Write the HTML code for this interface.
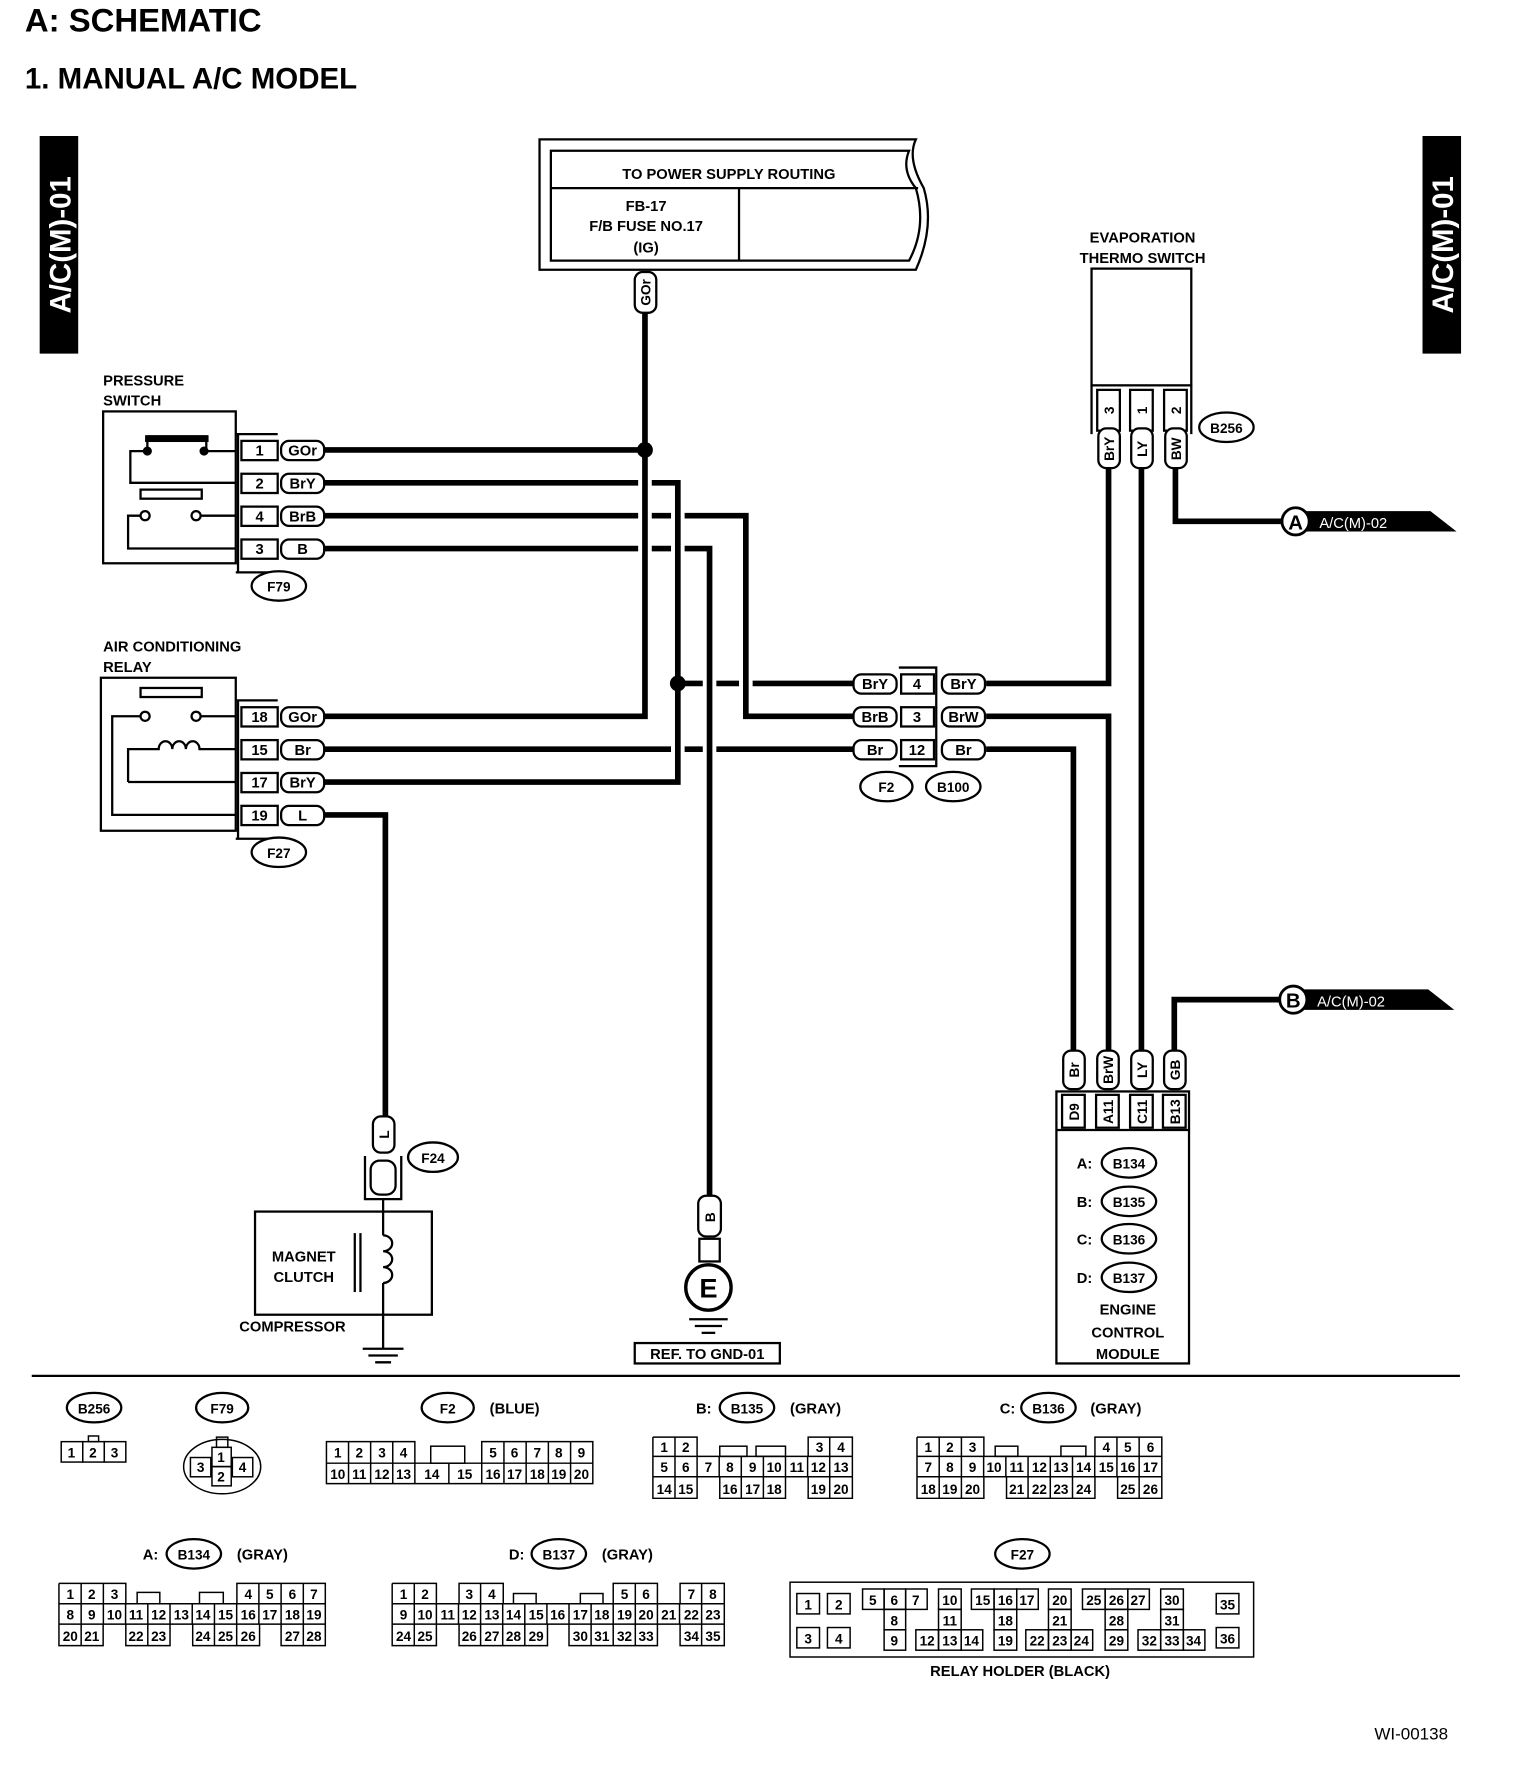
<!DOCTYPE html>
<html><head><meta charset="utf-8"><style>
html,body{margin:0;padding:0;background:#fff}
svg{display:block}
text{font-family:"Liberation Sans",Arial,sans-serif;font-weight:bold;fill:#000}
</style></head><body>
<svg width="1520" height="1776" viewBox="0 0 1341 1567" preserveAspectRatio="none" xmlns="http://www.w3.org/2000/svg">
<rect width="1341" height="1567" fill="#fff"/>
<text x="22" y="28" font-size="29">A:  SCHEMATIC</text>
<text x="22" y="78" font-size="26">1.  MANUAL A/C MODEL</text>

<rect x="35" y="120" width="34" height="192" fill="#000"/>
<text transform="translate(62,216) rotate(-90)" font-size="26" text-anchor="middle" style="fill:#fff">A/C(M)-01</text>
<rect x="1255" y="120" width="34" height="192" fill="#000"/>
<text transform="translate(1282,216) rotate(-90)" font-size="26" text-anchor="middle" style="fill:#fff">A/C(M)-01</text>

<g fill="none" stroke="#000" stroke-width="2">
<path d="M476,123 H808 Q800,140 815,166 Q825,200 808,238 H476 Z"/>
<path d="M486,133 H802 Q795,150 808,166 Q818,200 802,230 H486 Z"/>
<line x1="486" y1="166" x2="810" y2="166"/>
<line x1="652" y1="166" x2="652" y2="230"/>
</g>
<text x="643" y="158" font-size="13" text-anchor="middle">TO POWER SUPPLY ROUTING</text>
<text x="570" y="186" font-size="13" text-anchor="middle">FB-17</text>
<text x="570" y="204" font-size="13" text-anchor="middle">F/B FUSE NO.17</text>
<text x="570" y="223" font-size="13" text-anchor="middle">(IG)</text>

<g stroke="#000" stroke-width="5" fill="none">
<polyline points="569,275 569,632 285,632"/>
<line x1="285" y1="397" x2="569" y2="397"/>
<polyline points="285,426 563,426"/><polyline points="575,426 598,426 598,690 285,690"/>
<polyline points="285,455 563,455"/><line x1="575" y1="455" x2="592" y2="455"/><polyline points="604,455 658,455 658,632 755,632"/>
<polyline points="285,484 563,484"/><line x1="575" y1="484" x2="592" y2="484"/><polyline points="604,484 626,484 626,1055"/>
<line x1="598" y1="603" x2="620" y2="603"/><line x1="632" y1="603" x2="652" y2="603"/><line x1="664" y1="603" x2="755" y2="603"/>
<line x1="285" y1="661" x2="592" y2="661"/><line x1="604" y1="661" x2="620" y2="661"/><line x1="632" y1="661" x2="755" y2="661"/>
<polyline points="285,719 340,719 340,985"/>
<polyline points="870,603 978,603 978,412"/>
<polyline points="870,632 978,632 978,927"/>
<polyline points="870,661 947,661 947,927"/>
<line x1="1007" y1="412" x2="1007" y2="927"/>
<polyline points="1037,412 1037,460 1131,460"/>
<polyline points="1036,927 1036,882 1129,882"/>
</g>
<circle cx="569" cy="397" r="7"/><circle cx="598" cy="603" r="7"/>

<rect x="560" y="240" width="19" height="36" rx="7" fill="#fff" stroke="#000" stroke-width="2"/>
<text transform="translate(574,258) rotate(-90)" font-size="12" text-anchor="middle">GOr</text>

<text x="91" y="340" font-size="13">PRESSURE</text>
<text x="91" y="358" font-size="13">SWITCH</text>
<g fill="none" stroke="#000" stroke-width="2">
<rect x="91" y="363" width="117" height="134"/>
<polyline points="208,383 245,383"/><polyline points="208,505 245,505"/><line x1="210" y1="383" x2="210" y2="505"/>
<rect x="213" y="389" width="32" height="17"/><rect x="213" y="418" width="32" height="17"/><rect x="213" y="447" width="32" height="17"/><rect x="213" y="476" width="32" height="17"/>
<polyline points="130,398 130,385 182,385 182,398"/>
<polyline points="130,398 115,398 115,426 208,426"/><line x1="182" y1="398" x2="208" y2="398"/>
<rect x="124" y="432" width="54" height="8"/>
<circle cx="128" cy="455" r="4"/><circle cx="173" cy="455" r="4"/>
<polyline points="124,455 113,455 113,484 208,484"/><line x1="177" y1="455" x2="208" y2="455"/>
</g>
<circle cx="130" cy="398" r="4"/><circle cx="180" cy="398" r="4"/>
<rect x="128" y="384" width="56" height="6"/>
<g font-size="13" text-anchor="middle">
<text x="229" y="402">1</text><text x="229" y="431">2</text><text x="229" y="460">4</text><text x="229" y="489">3</text>
</g>
<g fill="#fff" stroke="#000" stroke-width="2">
<rect x="248" y="389" width="38" height="17" rx="7"/><rect x="248" y="418" width="38" height="17" rx="7"/><rect x="248" y="447" width="38" height="17" rx="7"/><rect x="248" y="476" width="38" height="17" rx="7"/>
</g>
<g font-size="13" text-anchor="middle">
<text x="267" y="402">GOr</text><text x="267" y="431">BrY</text><text x="267" y="460">BrB</text><text x="267" y="489">B</text>
</g>
<ellipse cx="246" cy="517" rx="24" ry="13" fill="#fff" stroke="#000" stroke-width="2"/><text x="246" y="522" font-size="12" text-anchor="middle">F79</text>

<text x="91" y="575" font-size="13">AIR CONDITIONING</text>
<text x="91" y="593" font-size="13">RELAY</text>
<g fill="none" stroke="#000" stroke-width="2">
<rect x="89" y="598" width="119" height="135"/>
<polyline points="208,618 245,618"/><polyline points="208,740 245,740"/><line x1="210" y1="618" x2="210" y2="740"/>
<rect x="213" y="624" width="32" height="17"/><rect x="213" y="653" width="32" height="17"/><rect x="213" y="682" width="32" height="17"/><rect x="213" y="711" width="32" height="17"/>
<rect x="124" y="607" width="54" height="8"/>
<circle cx="128" cy="632" r="4"/><circle cx="173" cy="632" r="4"/>
<polyline points="124,632 99,632 99,719 208,719"/><line x1="177" y1="632" x2="208" y2="632"/>
<path d="M113,690 V661 H140 a6,7 0 0 1 12,0 a6,7 0 0 1 12,0 a6,7 0 0 1 12,0 H208"/>
<line x1="113" y1="690" x2="208" y2="690"/>
</g>
<g font-size="13" text-anchor="middle">
<text x="229" y="637">18</text><text x="229" y="666">15</text><text x="229" y="695">17</text><text x="229" y="724">19</text>
</g>
<g fill="#fff" stroke="#000" stroke-width="2">
<rect x="248" y="624" width="38" height="17" rx="7"/><rect x="248" y="653" width="38" height="17" rx="7"/><rect x="248" y="682" width="38" height="17" rx="7"/><rect x="248" y="711" width="38" height="17" rx="7"/>
</g>
<g font-size="13" text-anchor="middle">
<text x="267" y="637">GOr</text><text x="267" y="666">Br</text><text x="267" y="695">BrY</text><text x="267" y="724">L</text>
</g>
<ellipse cx="246" cy="752" rx="24" ry="13" fill="#fff" stroke="#000" stroke-width="2"/><text x="246" y="757" font-size="12" text-anchor="middle">F27</text>

<rect x="329" y="985" width="19" height="32" rx="7" fill="#fff" stroke="#000" stroke-width="2"/>
<text transform="translate(343,1001) rotate(-90)" font-size="12" text-anchor="middle">L</text>
<g fill="none" stroke="#000" stroke-width="2">
<path d="M322,1020 V1058 H354 V1020"/><rect x="327" y="1024" width="22" height="30" rx="8"/>
<rect x="225" y="1069" width="156" height="91"/>
<line x1="338" y1="1058" x2="338" y2="1090"/>
<path d="M338,1090 a8,7 0 0 1 0,14 a8,7 0 0 1 0,14 a8,7 0 0 1 0,14"/>
<line x1="338" y1="1132" x2="338" y2="1190"/>
<line x1="313" y1="1088" x2="313" y2="1140"/><line x1="318" y1="1088" x2="318" y2="1140"/>
<line x1="320" y1="1190" x2="356" y2="1190"/><line x1="325" y1="1196" x2="351" y2="1196"/><line x1="331" y1="1202" x2="345" y2="1202"/>
</g>
<ellipse cx="382" cy="1021" rx="22" ry="13" fill="#fff" stroke="#000" stroke-width="2"/><text x="382" y="1026" font-size="12" text-anchor="middle">F24</text>
<text x="268" y="1113" font-size="13" text-anchor="middle">MAGNET</text>
<text x="268" y="1131" font-size="13" text-anchor="middle">CLUTCH</text>
<text x="258" y="1175" font-size="13" text-anchor="middle">COMPRESSOR</text>

<rect x="616" y="1055" width="20" height="36" rx="7" fill="#fff" stroke="#000" stroke-width="2"/>
<text transform="translate(631,1074) rotate(-90)" font-size="12" text-anchor="middle">B</text>
<rect x="617" y="1093" width="18" height="20" fill="#fff" stroke="#000" stroke-width="2"/>
<circle cx="625" cy="1136" r="20" fill="#fff" stroke="#000" stroke-width="3"/>
<text x="625" y="1145" font-size="24" text-anchor="middle">E</text>
<g stroke="#000" stroke-width="2"><line x1="608" y1="1164" x2="642" y2="1164"/><line x1="613" y1="1170" x2="637" y2="1170"/><line x1="619" y1="1176" x2="631" y2="1176"/></g>
<rect x="560" y="1185" width="128" height="18" fill="none" stroke="#000" stroke-width="2"/>
<text x="624" y="1199" font-size="13" text-anchor="middle">REF. TO GND-01</text>

<g fill="none" stroke="#000" stroke-width="2">
<path d="M793,589 H826 V676 H793"/>
<rect x="795" y="595" width="29" height="17"/><rect x="795" y="624" width="29" height="17"/><rect x="795" y="653" width="29" height="17"/>
</g>
<g fill="#fff" stroke="#000" stroke-width="2">
<rect x="753" y="595" width="38" height="17" rx="7"/><rect x="753" y="624" width="38" height="17" rx="7"/><rect x="753" y="653" width="38" height="17" rx="7"/>
<rect x="831" y="595" width="38" height="17" rx="7"/><rect x="831" y="624" width="38" height="17" rx="7"/><rect x="831" y="653" width="38" height="17" rx="7"/>
</g>
<g font-size="13" text-anchor="middle">
<text x="772" y="608">BrY</text><text x="772" y="637">BrB</text><text x="772" y="666">Br</text>
<text x="809" y="608">4</text><text x="809" y="637">3</text><text x="809" y="666">12</text>
<text x="850" y="608">BrY</text><text x="850" y="637">BrW</text><text x="850" y="666">Br</text>
</g>
<ellipse cx="782" cy="694" rx="23" ry="13" fill="#fff" stroke="#000" stroke-width="2"/><text x="782" y="699" font-size="12" text-anchor="middle">F2</text>
<ellipse cx="841" cy="694" rx="24" ry="13" fill="#fff" stroke="#000" stroke-width="2"/><text x="841" y="699" font-size="12" text-anchor="middle">B100</text>

<text x="1008" y="214" font-size="13" text-anchor="middle">EVAPORATION</text>
<text x="1008" y="232" font-size="13" text-anchor="middle">THERMO SWITCH</text>
<g fill="none" stroke="#000" stroke-width="2">
<rect x="963" y="237" width="88" height="103"/>
<path d="M963,340 V383 M1051,340 V383"/>
<rect x="968" y="344" width="20" height="36"/><rect x="997" y="344" width="20" height="36"/><rect x="1027" y="344" width="20" height="36"/>
</g>
<g font-size="12" text-anchor="middle">
<text transform="translate(983,362) rotate(-90)">3</text><text transform="translate(1012,362) rotate(-90)">1</text><text transform="translate(1042,362) rotate(-90)">2</text>
</g>
<g fill="#fff" stroke="#000" stroke-width="2">
<rect x="969" y="378" width="19" height="35" rx="7"/><rect x="998" y="378" width="19" height="35" rx="7"/><rect x="1028" y="378" width="19" height="35" rx="7"/>
</g>
<g font-size="12" text-anchor="middle">
<text transform="translate(983,396) rotate(-90)">BrY</text><text transform="translate(1012,396) rotate(-90)">LY</text><text transform="translate(1042,396) rotate(-90)">BW</text>
</g>
<ellipse cx="1082" cy="377" rx="24" ry="13" fill="#fff" stroke="#000" stroke-width="2"/><text x="1082" y="382" font-size="12" text-anchor="middle">B256</text>

<polygon points="1150,451 1262,451 1285,469 1150,469" fill="#000"/>
<circle cx="1143" cy="460" r="12" fill="#fff" stroke="#000" stroke-width="2.5"/>
<text x="1143" y="467" font-size="18" text-anchor="middle">A</text>
<text x="1164" y="466" font-size="13" style="fill:#fff;font-weight:normal">A/C(M)-02</text>
<polygon points="1148,873 1260,873 1283,891 1148,891" fill="#000"/>
<circle cx="1141" cy="882" r="12" fill="#fff" stroke="#000" stroke-width="2.5"/>
<text x="1141" y="889" font-size="18" text-anchor="middle">B</text>
<text x="1162" y="888" font-size="13" style="fill:#fff;font-weight:normal">A/C(M)-02</text>

<g fill="#fff" stroke="#000" stroke-width="2">
<rect x="938" y="927" width="19" height="34" rx="7"/><rect x="968" y="927" width="19" height="34" rx="7"/><rect x="998" y="927" width="19" height="34" rx="7"/><rect x="1027" y="927" width="19" height="34" rx="7"/>
</g>
<g font-size="12" text-anchor="middle">
<text transform="translate(952,944) rotate(-90)">Br</text><text transform="translate(982,944) rotate(-90)">BrW</text><text transform="translate(1012,944) rotate(-90)">LY</text><text transform="translate(1041,944) rotate(-90)">GB</text>
</g>
<g fill="none" stroke="#000" stroke-width="2">
<rect x="932" y="963" width="117" height="240"/>
<line x1="932" y1="997" x2="1049" y2="997"/>
<rect x="937" y="966" width="20" height="29"/><rect x="967" y="966" width="20" height="29"/><rect x="997" y="966" width="20" height="29"/><rect x="1026" y="966" width="20" height="29"/>
</g>
<g font-size="12" text-anchor="middle">
<text transform="translate(952,981) rotate(-90)">D9</text><text transform="translate(982,981) rotate(-90)">A11</text><text transform="translate(1012,981) rotate(-90)">C11</text><text transform="translate(1041,981) rotate(-90)">B13</text>
</g>
<g font-size="13">
<text x="950" y="1031">A:</text><text x="950" y="1065">B:</text><text x="950" y="1098">C:</text><text x="950" y="1132">D:</text>
</g>
<g fill="#fff" stroke="#000" stroke-width="2">
<ellipse cx="996" cy="1026" rx="24" ry="13"/><ellipse cx="996" cy="1060" rx="24" ry="13"/><ellipse cx="996" cy="1093" rx="24" ry="13"/><ellipse cx="996" cy="1127" rx="24" ry="13"/>
</g>
<g font-size="12" text-anchor="middle">
<text x="996" y="1031">B134</text><text x="996" y="1065">B135</text><text x="996" y="1098">B136</text><text x="996" y="1132">B137</text>
<text x="995" y="1160" font-size="13">ENGINE</text><text x="995" y="1180" font-size="13">CONTROL</text><text x="995" y="1199" font-size="13">MODULE</text>
</g>

<line x1="28" y1="1214" x2="1288" y2="1214" stroke="#000" stroke-width="2"/>

<g fill="#fff" stroke="#000" stroke-width="2">
<ellipse cx="83" cy="1242" rx="24" ry="13"/><ellipse cx="196" cy="1242" rx="23" ry="13"/><ellipse cx="395" cy="1242" rx="23" ry="13"/>
<ellipse cx="659" cy="1242" rx="24" ry="13"/><ellipse cx="925" cy="1242" rx="24" ry="13"/>
<ellipse cx="171" cy="1371" rx="24" ry="13"/><ellipse cx="493" cy="1371" rx="24" ry="13"/><ellipse cx="902" cy="1371" rx="24" ry="13"/>
</g>
<g font-size="12" text-anchor="middle">
<text x="83" y="1247">B256</text><text x="196" y="1247">F79</text><text x="395" y="1247">F2</text><text x="659" y="1247">B135</text><text x="925" y="1247">B136</text>
<text x="171" y="1376">B134</text><text x="493" y="1376">B137</text><text x="902" y="1376">F27</text>
</g>
<g font-size="13">
<text x="432" y="1247">(BLUE)</text><text x="614" y="1247">B:</text><text x="697" y="1247">(GRAY)</text>
<text x="882" y="1247">C:</text><text x="962" y="1247">(GRAY)</text>
<text x="126" y="1376">A:</text><text x="209" y="1376">(GRAY)</text>
<text x="449" y="1376">D:</text><text x="531" y="1376">(GRAY)</text>
</g>

<g fill="none" stroke="#000" stroke-width="1.3">
<rect x="54" y="1272" width="19" height="18"/><rect x="73" y="1272" width="19" height="18"/><rect x="92" y="1272" width="19" height="18"/><rect x="78" y="1267" width="9" height="5"/>
<ellipse cx="196" cy="1294" rx="34" ry="24"/><rect x="191" y="1268" width="10" height="9"/>
<rect x="187" y="1277" width="17" height="17"/><rect x="187" y="1294" width="17" height="17"/><rect x="168" y="1286" width="18" height="17"/><rect x="205" y="1286" width="18" height="17"/>
<path d="M288,1272 H366 V1291 H288 Z M425,1272 H523 V1291 H425 Z M288,1291 H523 V1309 H288 Z"/>
<path d="M307.5,1272V1309 M327,1272V1309 M346.5,1272V1309 M366,1291V1309 M396,1291V1309 M425,1291V1309 M444.6,1272V1309 M464.2,1272V1309 M483.8,1272V1309 M503.4,1272V1309"/>
<rect x="380" y="1276" width="30" height="15"/>
<path d="M576,1268 H615 V1285 M713,1285 V1268 H752 V1322 H713 V1303 M693,1303 V1322 H635 V1303 M615,1303 V1322 H576 V1268 M576,1285 H752 M576,1303 H752"/>
<path d="M595.5,1268V1322 M615,1285V1303 M634.5,1285V1303 M654,1285V1322 M673.5,1285V1322 M693,1285V1303 M712.5,1285V1303 M732,1268V1322"/>
<rect x="635" y="1276" width="24" height="9"/><rect x="667" y="1276" width="26" height="9"/>
<path d="M809,1268 H868 V1285 M966,1285 V1268 H1025 V1322 H986 V1303 M966,1303 V1322 H888 V1303 M868,1303 V1322 H809 V1268 M809,1285 H1025 M809,1303 H1025"/>
<path d="M828.6,1268V1322 M848.2,1268V1322 M867.8,1285V1303 M887.4,1285V1303 M907,1285V1322 M926.6,1285V1322 M946.2,1285V1322 M965.8,1285V1303 M985.4,1268V1303 M1005,1268V1322"/>
<rect x="878" y="1276" width="20" height="9"/><rect x="936" y="1276" width="22" height="9"/>
<path d="M52,1397 H111 V1415 M209,1415 V1397 H287 V1452 H248 V1433 M229,1433 V1452 H170 V1433 M150,1433 V1452 H111 V1433 M91,1433 V1452 H52 V1397 M52,1415 H287 M52,1433 H287"/>
<path d="M71.6,1397V1452 M91.2,1397V1433 M110.8,1415V1433 M130.4,1415V1452 M150,1415V1433 M169.6,1415V1433 M189.2,1415V1452 M208.8,1415V1452 M228.4,1397V1433 M248,1397V1433 M267.6,1397V1452"/>
<rect x="121" y="1405" width="20" height="10"/><rect x="176" y="1405" width="21" height="10"/>
<path d="M346,1397 H385 V1415 M405,1415 V1397 H444 V1415 M541,1415 V1397 H580 V1415 M600,1415 V1397 H639 V1452 H600 V1433 M580,1433 V1452 H502 V1433 M483,1433 V1452 H405 V1433 M385,1433 V1452 H346 V1397 M346,1415 H639 M346,1433 H639"/>
<path d="M365.5,1397V1452 M385,1415V1433 M404.5,1415V1433 M424,1397V1452 M443.5,1415V1452 M463,1415V1452 M482.5,1415V1433 M502,1415V1433 M521.5,1415V1452 M541,1415V1452 M560.5,1397V1452 M580,1415V1433 M599.5,1415V1433 M619,1397V1452"/>
<rect x="453" y="1406" width="20" height="9"/><rect x="512" y="1406" width="20" height="9"/>
<rect x="697" y="1396" width="409" height="66"/>
<rect x="703" y="1406" width="20" height="18"/><rect x="730" y="1406" width="20" height="18"/><rect x="703" y="1436" width="20" height="18"/><rect x="730" y="1436" width="20" height="18"/>
<rect x="761" y="1402" width="19" height="18"/><rect x="780" y="1402" width="19" height="18"/><rect x="799" y="1402" width="19" height="18"/><rect x="780" y="1420" width="19" height="18"/><rect x="780" y="1438" width="19" height="18"/>
<rect x="828" y="1402" width="20" height="18"/><rect x="828" y="1420" width="20" height="18"/><rect x="808" y="1438" width="20" height="18"/><rect x="828" y="1438" width="20" height="18"/><rect x="848" y="1438" width="19" height="18"/>
<rect x="857" y="1402" width="20" height="18"/><rect x="877" y="1402" width="20" height="18"/><rect x="897" y="1402" width="19" height="18"/><rect x="877" y="1420" width="20" height="18"/><rect x="877" y="1438" width="20" height="18"/>
<rect x="925" y="1402" width="20" height="18"/><rect x="925" y="1420" width="20" height="18"/><rect x="905" y="1438" width="20" height="18"/><rect x="925" y="1438" width="20" height="18"/><rect x="945" y="1438" width="19" height="18"/>
<rect x="955" y="1402" width="20" height="18"/><rect x="975" y="1402" width="20" height="18"/><rect x="995" y="1402" width="19" height="18"/><rect x="975" y="1420" width="20" height="18"/><rect x="975" y="1438" width="20" height="18"/>
<rect x="1024" y="1402" width="20" height="18"/><rect x="1024" y="1420" width="20" height="18"/><rect x="1004" y="1438" width="20" height="18"/><rect x="1024" y="1438" width="20" height="18"/><rect x="1044" y="1438" width="19" height="18"/>
<rect x="1073" y="1406" width="20" height="18"/><rect x="1073" y="1436" width="20" height="18"/>
</g>
<g font-size="12" text-anchor="middle" style="font-weight:normal">
<text x="63" y="1286">1</text><text x="82" y="1286">2</text><text x="101" y="1286">3</text>
<text x="195" y="1290">1</text><text x="195" y="1307">2</text><text x="177" y="1299">3</text><text x="214" y="1299">4</text>
<text x="298" y="1286">1</text><text x="317" y="1286">2</text><text x="337" y="1286">3</text><text x="356" y="1286">4</text><text x="435" y="1286">5</text><text x="454" y="1286">6</text><text x="474" y="1286">7</text><text x="493" y="1286">8</text><text x="513" y="1286">9</text>
<text x="298" y="1305">10</text><text x="317" y="1305">11</text><text x="337" y="1305">12</text><text x="356" y="1305">13</text><text x="381" y="1305">14</text><text x="410" y="1305">15</text><text x="435" y="1305">16</text><text x="454" y="1305">17</text><text x="474" y="1305">18</text><text x="493" y="1305">19</text><text x="513" y="1305">20</text>
<text x="586" y="1281">1</text><text x="605" y="1281">2</text><text x="723" y="1281">3</text><text x="742" y="1281">4</text>
<text x="586" y="1299">5</text><text x="605" y="1299">6</text><text x="625" y="1299">7</text><text x="644" y="1299">8</text><text x="664" y="1299">9</text><text x="683" y="1299">10</text><text x="703" y="1299">11</text><text x="722" y="1299">12</text><text x="742" y="1299">13</text>
<text x="586" y="1318">14</text><text x="605" y="1318">15</text><text x="644" y="1318">16</text><text x="664" y="1318">17</text><text x="683" y="1318">18</text><text x="722" y="1318">19</text><text x="742" y="1318">20</text>
<text x="819" y="1281">1</text><text x="838" y="1281">2</text><text x="858" y="1281">3</text><text x="976" y="1281">4</text><text x="995" y="1281">5</text><text x="1015" y="1281">6</text>
<text x="819" y="1299">7</text><text x="838" y="1299">8</text><text x="858" y="1299">9</text><text x="877" y="1299">10</text><text x="897" y="1299">11</text><text x="917" y="1299">12</text><text x="936" y="1299">13</text><text x="956" y="1299">14</text><text x="976" y="1299">15</text><text x="995" y="1299">16</text><text x="1015" y="1299">17</text>
<text x="819" y="1318">18</text><text x="838" y="1318">19</text><text x="858" y="1318">20</text><text x="897" y="1318">21</text><text x="917" y="1318">22</text><text x="936" y="1318">23</text><text x="956" y="1318">24</text><text x="995" y="1318">25</text><text x="1015" y="1318">26</text>
<text x="62" y="1411">1</text><text x="81" y="1411">2</text><text x="101" y="1411">3</text><text x="219" y="1411">4</text><text x="238" y="1411">5</text><text x="258" y="1411">6</text><text x="277" y="1411">7</text>
<text x="62" y="1429">8</text><text x="81" y="1429">9</text><text x="101" y="1429">10</text><text x="120" y="1429">11</text><text x="140" y="1429">12</text><text x="160" y="1429">13</text><text x="179" y="1429">14</text><text x="199" y="1429">15</text><text x="219" y="1429">16</text><text x="238" y="1429">17</text><text x="258" y="1429">18</text><text x="277" y="1429">19</text>
<text x="62" y="1448">20</text><text x="81" y="1448">21</text><text x="120" y="1448">22</text><text x="140" y="1448">23</text><text x="179" y="1448">24</text><text x="199" y="1448">25</text><text x="219" y="1448">26</text><text x="258" y="1448">27</text><text x="277" y="1448">28</text>
<text x="356" y="1411">1</text><text x="375" y="1411">2</text><text x="414" y="1411">3</text><text x="434" y="1411">4</text><text x="551" y="1411">5</text><text x="570" y="1411">6</text><text x="610" y="1411">7</text><text x="629" y="1411">8</text>
<text x="356" y="1429">9</text><text x="375" y="1429">10</text><text x="395" y="1429">11</text><text x="414" y="1429">12</text><text x="434" y="1429">13</text><text x="453" y="1429">14</text><text x="473" y="1429">15</text><text x="492" y="1429">16</text><text x="512" y="1429">17</text><text x="531" y="1429">18</text><text x="551" y="1429">19</text><text x="570" y="1429">20</text><text x="590" y="1429">21</text><text x="610" y="1429">22</text><text x="629" y="1429">23</text>
<text x="356" y="1448">24</text><text x="375" y="1448">25</text><text x="414" y="1448">26</text><text x="434" y="1448">27</text><text x="453" y="1448">28</text><text x="473" y="1448">29</text><text x="512" y="1448">30</text><text x="531" y="1448">31</text><text x="551" y="1448">32</text><text x="570" y="1448">33</text><text x="610" y="1448">34</text><text x="629" y="1448">35</text>
<text x="713" y="1420">1</text><text x="740" y="1420">2</text><text x="713" y="1450">3</text><text x="740" y="1450">4</text>
<text x="770" y="1416">5</text><text x="789" y="1416">6</text><text x="808" y="1416">7</text><text x="789" y="1434">8</text><text x="789" y="1452">9</text>
<text x="838" y="1416">10</text><text x="838" y="1434">11</text><text x="818" y="1452">12</text><text x="838" y="1452">13</text><text x="857" y="1452">14</text>
<text x="867" y="1416">15</text><text x="887" y="1416">16</text><text x="906" y="1416">17</text><text x="887" y="1434">18</text><text x="887" y="1452">19</text>
<text x="935" y="1416">20</text><text x="935" y="1434">21</text><text x="915" y="1452">22</text><text x="935" y="1452">23</text><text x="954" y="1452">24</text>
<text x="965" y="1416">25</text><text x="985" y="1416">26</text><text x="1004" y="1416">27</text><text x="985" y="1434">28</text><text x="985" y="1452">29</text>
<text x="1034" y="1416">30</text><text x="1034" y="1434">31</text><text x="1014" y="1452">32</text><text x="1034" y="1452">33</text><text x="1053" y="1452">34</text>
<text x="1083" y="1420">35</text><text x="1083" y="1450">36</text>
</g>
<text x="900" y="1479" font-size="13" text-anchor="middle">RELAY HOLDER (BLACK)</text>
<text x="1245" y="1535" font-size="15" text-anchor="middle" style="font-weight:normal">WI-00138</text>
</svg>
</body></html>
